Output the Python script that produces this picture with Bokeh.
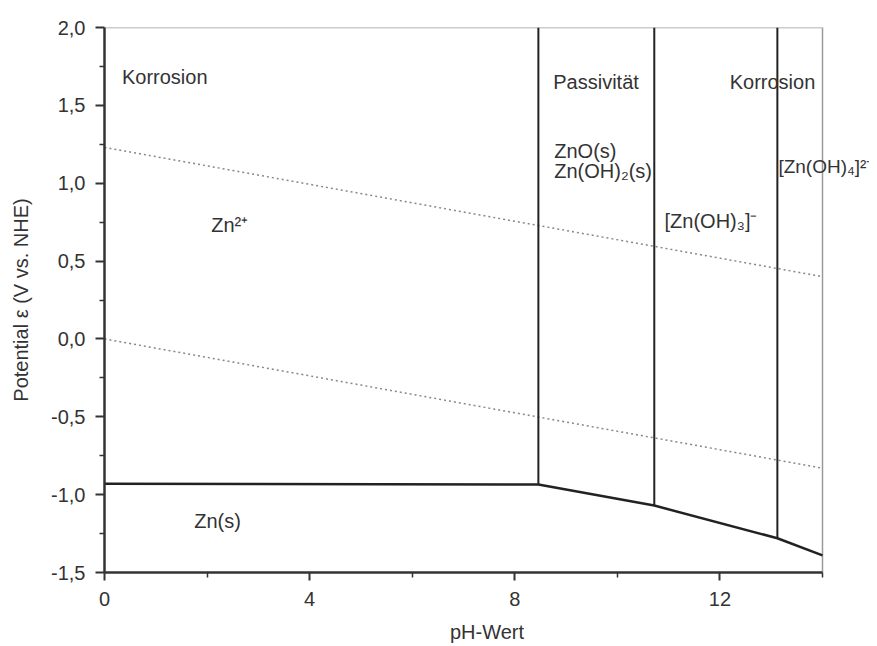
from bokeh.plotting import figure
from bokeh.models import FixedTicker, Label, Range1d
from bokeh.embed import file_html
from bokeh.resources import INLINE

# --- data ---
x_min, x_max = 0, 14
y_min, y_max = -1.5, 2.0
x_ticks = [0, 4, 8, 12]
x_minor = [2, 6, 10, 14]
y_ticks = [-1.5, -1.0, -0.5, 0.0, 0.5, 1.0, 1.5, 2.0]
y_minor = [-1.25, -0.75, -0.25, 0.25, 0.75, 1.25, 1.75]
y_tick_labels = ["-1,5", "-1,0", "-0,5", "0,0", "0,5", "1,0", "1,5", "2,0"]

# water stability lines
water_ph = [0, 14]
o2_line = [1.23, 0.40]
h2_line = [0.0, -0.83]

# Zn(s) boundary
zn_ph = [0, 8.46, 10.72, 13.12, 14]
zn_E = [-0.93, -0.935, -1.07, -1.28, -1.39]

# vertical boundaries
v_ph = [8.46, 10.72, 13.12]
v_bottom = [-0.935, -1.07, -1.28]
v_top = [2.0, 2.0, 2.0]

labels = ["Korrosion", "Passivität", "Korrosion", "ZnO(s)", "Zn(OH)₂(s)",
          "[Zn(OH)₃]⁻", "[Zn(OH)₄]²⁻", "Zn²⁺", "Zn(s)"]
label_x = [0.34, 8.75, 12.19, 8.77, 8.77, 10.92, 13.14, 2.08, 1.75]
label_y = [1.68, 1.647, 1.647, 1.21, 1.08, 0.76, 1.11, 0.73, -1.17]
label_size = ["20px", "20px", "20px", "20px", "20px", "20px", "19px", "20px", "20px"]

FONT = "Liberation Sans"
TXT = "#333333"

W, H = 869, 646
LEFT, TOP, BOTTOM = 104, 27, 74
FRAME_W_DATA = 718  # pixel width of the 0..14 span
frame_w = W - LEFT
x_end = x_max * frame_w / FRAME_W_DATA

p = figure(width=W, height=H, output_backend="svg", toolbar_location=None,
           x_range=Range1d(x_min, x_end), y_range=Range1d(y_min, y_max),
           min_border_left=LEFT, min_border_right=0, min_border_top=TOP,
           min_border_bottom=BOTTOM)
p.background_fill_color = "white"
p.border_fill_color = "white"
p.outline_line_color = None
p.xgrid.grid_line_color = None
p.ygrid.grid_line_color = None

for ax in (p.xaxis[0], p.yaxis[0]):
    ax.axis_line_color = "#333333"
    ax.axis_line_width = 2.5
    ax.major_tick_line_color = "#333333"
    ax.minor_tick_line_color = "#333333"
    ax.major_tick_line_width = 2
    ax.minor_tick_line_width = 1.5
    ax.major_tick_in = 0
    ax.minor_tick_in = 0
    ax.minor_tick_out = 5
    ax.major_label_text_font = FONT
    ax.major_label_text_font_size = "20px"
    ax.major_label_text_color = TXT
    ax.axis_label_text_font = FONT
    ax.axis_label_text_font_size = "20px"
    ax.axis_label_text_font_style = "normal"
    ax.axis_label_text_color = TXT

p.xaxis.bounds = (x_min, x_max)
p.xaxis.major_tick_out = 8
p.yaxis.major_tick_out = 9
p.xaxis.ticker = FixedTicker(ticks=x_ticks, minor_ticks=x_minor)
p.yaxis.ticker = FixedTicker(ticks=y_ticks, minor_ticks=y_minor)
p.yaxis.major_label_overrides = {t: l for t, l in zip(y_ticks, y_tick_labels)}
p.xaxis.major_label_standoff = 11
p.yaxis.major_label_standoff = 10
p.xaxis.axis_label = "pH-Wert"
p.yaxis.axis_label = "Potential ε (V vs. NHE)"
p.xaxis.axis_label_standoff = 12
p.yaxis.axis_label_standoff = 16

# frame top and right edges
p.line([x_min, x_max, x_max], [y_max, y_max, y_min], line_color="#9a9a9a", line_width=1.5)

# water lines
p.line(water_ph, o2_line, line_color="#888888", line_width=1.5, line_dash="2 3")
p.line(water_ph, h2_line, line_color="#888888", line_width=1.5, line_dash="2 3")

# boundaries
p.line(zn_ph, zn_E, line_color="#222222", line_width=2.5)
p.segment(x0=v_ph, y0=v_bottom, x1=v_ph, y1=v_top, line_color="#222222", line_width=2)

for t, lx, ly, fs in zip(labels, label_x, label_y, label_size):
    p.add_layout(Label(x=lx, y=ly, text=t, text_font=FONT, text_font_size=fs,
                       text_color=TXT, text_align="left", text_baseline="middle"))

open("out.html", "w").write(file_html(p, INLINE))
